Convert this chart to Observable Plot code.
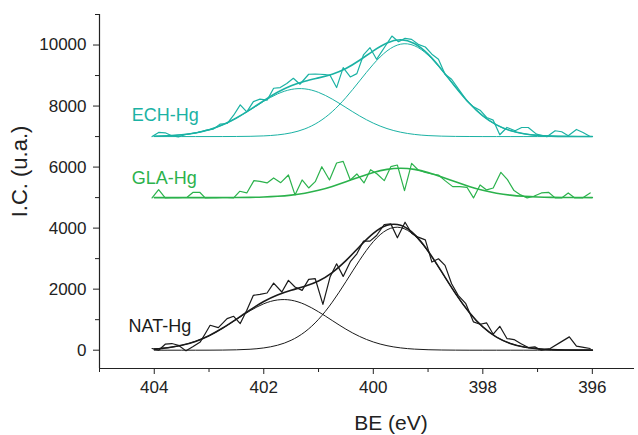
<!DOCTYPE html>
<html>
<head>
<meta charset="utf-8">
<script src="https://cdn.jsdelivr.net/npm/d3@7"></script>
<script src="https://cdn.jsdelivr.net/npm/@observablehq/plot@0.6"></script>
<style>
  html, body { margin: 0; padding: 0; background: #fff; }
  #chart { width: 638px; height: 435px; }
</style>
</head>
<body>
<div id="chart"></div>
<script>
// ---------- DATA ----------
const seriesNames = ["ECH-Hg", "GLA-Hg", "NAT-Hg"];
const xTicks = [404, 402, 400, 398, 396];
const xMinorTicks = [405, 403, 401, 399, 397];
const yTicks = [0, 2000, 4000, 6000, 8000, 10000];
const yMinorTicks = [1000, 3000, 5000, 7000, 9000, 11000];

// baselines (offsets) of each spectrum
const echBase = 7000;
const glaBase = 5000;
const natBase = 0;

// BE grid of the fitted components
const fitBE = [404, 403.75, 403.5, 403.25, 403, 402.75, 402.5, 402.25, 402, 401.75, 401.5, 401.25, 401,
  400.75, 400.5, 400.25, 400, 399.75, 399.5, 399.25, 399, 398.75, 398.5, 398.25, 398, 397.75, 397.5,
  397.25, 397, 396.75, 396.5, 396.25, 396];

// fitted components (intensity above baseline)
const echFit1 = [10, 25, 57, 119, 223, 384, 606, 874, 1155, 1396, 1544, 1563, 1448, 1228, 953, 677, 440,
  262, 143, 71, 32, 14, 5, 2, 0, 0, 0, 0, 0, 0, 0, 0, 0];
const echFit2 = [0, 0, 0, 0, 0, 1, 3, 8, 22, 54, 122, 252, 476, 817, 1279, 1824, 2370, 2806, 3028, 2978,
  2669, 2179, 1622, 1099, 680, 383, 196, 92, 39, 15, 5, 2, 0];
const glaFit = [0, 0, 0, 0, 0, 1, 4, 9, 20, 42, 81, 145, 239, 366, 518, 678, 823, 924, 960, 924, 823, 678,
  518, 366, 239, 145, 81, 42, 20, 9, 4, 1, 0];
const natFit1 = [38, 82, 160, 288, 475, 722, 1007, 1291, 1521, 1646, 1638, 1498, 1258, 972, 689, 450, 269,
  148, 75, 35, 15, 6, 2, 0, 0, 0, 0, 0, 0, 0, 0, 0, 0];
const natFit2 = [0, 0, 0, 0, 1, 4, 12, 31, 74, 162, 325, 598, 1011, 1572, 2245, 2948, 3557, 3943, 4017,
  3760, 3235, 2558, 1858, 1241, 761, 429, 223, 106, 46, 19, 7, 2, 1];

// raw spectra
const echRawBE = [404.04, 403.92, 403.80, 403.68, 403.56, 403.44, 403.32, 403.20, 403.07, 402.92, 402.80,
  402.67, 402.55, 402.43, 402.31, 402.19, 402.07, 401.94, 401.82, 401.70, 401.58, 401.46, 401.34, 401.18,
  401.06, 400.97, 400.88, 400.79, 400.67, 400.55, 400.42, 400.30, 400.18, 400.06, 399.94, 399.78, 399.66,
  399.54, 399.42, 399.30, 399.18, 399.05, 398.93, 398.81, 398.69, 398.57, 398.42, 398.29, 398.17, 398.05,
  397.93, 397.81, 397.69, 397.56, 397.41, 397.29, 397.17, 397.02, 396.83, 396.68, 396.56, 396.44, 396.29,
  396.17, 396.04];
const echRawI = [7000, 7135, 7124, 7026, 6990, 7060, 7100, 7140, 7200, 7244, 7408,
  7428, 7700, 8039, 7810, 8147, 8225, 8192, 8584, 8605, 8740, 8911, 8715, 9042,
  9045, 9042, 9030, 9009, 8605, 9259, 8954, 9063, 9675, 9913, 9532, 9967, 10294,
  10109, 10218, 10185, 10022, 9935, 9700, 9532, 9042, 8878, 8497, 8170, 7974, 7865,
  7625, 7538, 7059, 7298, 7190, 7298, 7298, 7081, 6993, 7190, 7157, 7026, 7233,
  7135, 7004];

const glaRawBE = [404.04, 403.92, 403.80, 403.68, 403.56, 403.40, 403.29, 403.17, 403.07, 402.92, 402.80,
  402.67, 402.55, 402.44, 402.31, 402.18, 402.07, 401.94, 401.82, 401.69, 401.55, 401.43, 401.30, 401.18,
  401.06, 400.94, 400.80, 400.67, 400.55, 400.42, 400.30, 400.17, 400.05, 399.93, 399.80, 399.68, 399.56,
  399.43, 399.30, 399.18, 399.05, 398.93, 398.81, 398.69, 398.55, 398.42, 398.29, 398.17, 398.05, 397.93,
  397.81, 397.67, 397.55, 397.43, 397.31, 397.19, 397.07, 396.93, 396.80, 396.68, 396.56, 396.44, 396.32,
  396.18, 396.04];
const glaRawI = [4990, 5261, 4990, 4995, 5000, 5011, 5174, 5174, 4990, 4995, 5000,
  5000, 4990, 5207, 5153, 5556, 5534, 5480, 5643, 5490, 5741, 5088, 5578, 5316,
  5523, 6013, 5578, 6134, 6186, 5578, 5774, 5480, 5915, 5774, 5556, 6013, 6067,
  5229, 6122, 5904, 5828, 5774, 5741, 5556, 5359, 5359, 5338, 4990, 5414, 5251,
  5316, 5828, 5588, 5229, 5088, 4990, 5043, 5153, 5174, 4990, 4990, 5153, 4990,
  4990, 5153];

const natRawBE = [404.04, 403.92, 403.80, 403.68, 403.56, 403.42, 403.29, 403.16, 403.07, 402.98, 402.83,
  402.67, 402.55, 402.43, 402.31, 402.19, 402.07, 401.94, 401.82, 401.67, 401.55, 401.43, 401.30, 401.18,
  401.06, 400.92, 400.79, 400.67, 400.55, 400.42, 400.30, 400.18, 400.06, 399.94, 399.80, 399.68, 399.56,
  399.42, 399.30, 399.18, 399.05, 398.93, 398.81, 398.69, 398.57, 398.45, 398.31, 398.17, 398.05, 397.93,
  397.81, 397.69, 397.56, 397.43, 397.31, 397.17, 397.05, 396.93, 396.77, 396.60, 396.42, 396.29, 396.16,
  396.04];
const natRawI = [55, 0, 196, 218, 163, -22, 120, 272, 540, 817, 741,
  1035, 1111, 871, 1307, 1797, 1830, 1874, 2200, 1906, 2288, 2070, 1961, 2320,
  2342, 1503, 2397, 2832, 2418, 2900, 3159, 3573, 3573, 3758, 4118, 4139, 3682,
  4194, 3834, 3704, 3616, 2887, 2996, 2778, 2178, 1797, 1525, 926, 850, 893,
  523, 784, 381, 348, 218, 87, 109, 0, 55, 240, 436, 131, 90,
  55];

// ---------- STYLE ----------
const colors = { "ECH-Hg": "#1bb2a4", "GLA-Hg": "#2bb24c", "NAT-Hg": "#1a1a1a" };
const FONT = "'Liberation Sans', Arial, Helvetica, sans-serif";

// ---------- TABLES ----------
const fitRows = (vals, base) => fitBE.map((x, i) => ({ x, y: base + vals[i] }));
const envRows = (a, b, base) => fitBE.map((x, i) => ({ x, y: base + a[i] + b[i] }));
const rawRows = (bes, vals) => bes.map((x, i) => ({ x, y: vals[i] }));

const ech = colors["ECH-Hg"], gla = colors["GLA-Hg"], nat = colors["NAT-Hg"];

const rawW = 1.2, fitW = 1.0, envW = 1.6;

const chart = Plot.plot({
  width: 638,
  height: 435,
  marginLeft: 99,
  marginRight: 4,
  marginTop: 14,
  marginBottom: 67,
  style: { fontFamily: FONT, background: "#fff", color: "#222" },
  x: { domain: [405, 395.23], label: null },
  y: { domain: [-600, 11000], label: null },
  marks: [
    // axes
    Plot.axisX({ ticks: xTicks, tickSize: 6, tickPadding: 6, fontSize: 17, tickFormat: d => `${d}`, label: null }),
    Plot.axisX({ ticks: xMinorTicks, tickSize: 4, tickFormat: () => "", label: null }),
    Plot.axisY({ ticks: yTicks, tickSize: 6, tickPadding: 7, fontSize: 17, tickFormat: d => `${d}`, label: null }),
    Plot.axisY({ ticks: yMinorTicks, tickSize: 4, tickFormat: () => "", label: null }),
    Plot.ruleX([405], { stroke: "#222", strokeWidth: 1.2 }),
    Plot.ruleY([-600], { stroke: "#222", strokeWidth: 1.2 }),

    // NAT-Hg
    Plot.line(fitRows(natFit1, natBase), { x: "x", y: "y", stroke: nat, strokeWidth: fitW, curve: "natural" }),
    Plot.line(fitRows(natFit2, natBase), { x: "x", y: "y", stroke: nat, strokeWidth: fitW, curve: "natural" }),
    Plot.line(envRows(natFit1, natFit2, natBase), { x: "x", y: "y", stroke: nat, strokeWidth: envW, curve: "natural" }),
    Plot.line(rawRows(natRawBE, natRawI), { x: "x", y: "y", stroke: nat, strokeWidth: rawW }),

    // GLA-Hg
    Plot.line(fitRows(glaFit, glaBase), { x: "x", y: "y", stroke: gla, strokeWidth: envW, curve: "natural" }),
    Plot.line(rawRows(glaRawBE, glaRawI), { x: "x", y: "y", stroke: gla, strokeWidth: rawW }),

    // ECH-Hg
    Plot.line(fitRows(echFit1, echBase), { x: "x", y: "y", stroke: ech, strokeWidth: fitW, curve: "natural" }),
    Plot.line(fitRows(echFit2, echBase), { x: "x", y: "y", stroke: ech, strokeWidth: fitW, curve: "natural" }),
    Plot.line(envRows(echFit1, echFit2, echBase), { x: "x", y: "y", stroke: ech, strokeWidth: envW, curve: "natural" }),
    Plot.line(rawRows(echRawBE, echRawI), { x: "x", y: "y", stroke: ech, strokeWidth: rawW }),

    // series labels
    Plot.text([seriesNames[0]], { x: 404.41, y: echBase + 700, text: d => d, textAnchor: "start", fill: ech, fontSize: 18 }),
    Plot.text([seriesNames[1]], { x: 404.41, y: glaBase + 630, text: d => d, textAnchor: "start", fill: gla, fontSize: 18 }),
    Plot.text([seriesNames[2]], { x: 404.47, y: natBase + 800, text: d => d, textAnchor: "start", fill: nat, fontSize: 18 }),

    // axis titles
    Plot.text(["BE (eV)"], { frameAnchor: "bottom", text: d => d, textAnchor: "middle", lineAnchor: "middle", dx: 24, dy: 55, fontSize: 21, fill: "#222" }),
    Plot.text(["I.C. (u.a.)"], { frameAnchor: "left", text: d => d, textAnchor: "middle", lineAnchor: "middle", dx: -80, dy: -20, rotate: -90, fontSize: 22, fill: "#222" })
  ]
});

document.getElementById("chart").appendChild(chart);
</script>
</body>
</html>
